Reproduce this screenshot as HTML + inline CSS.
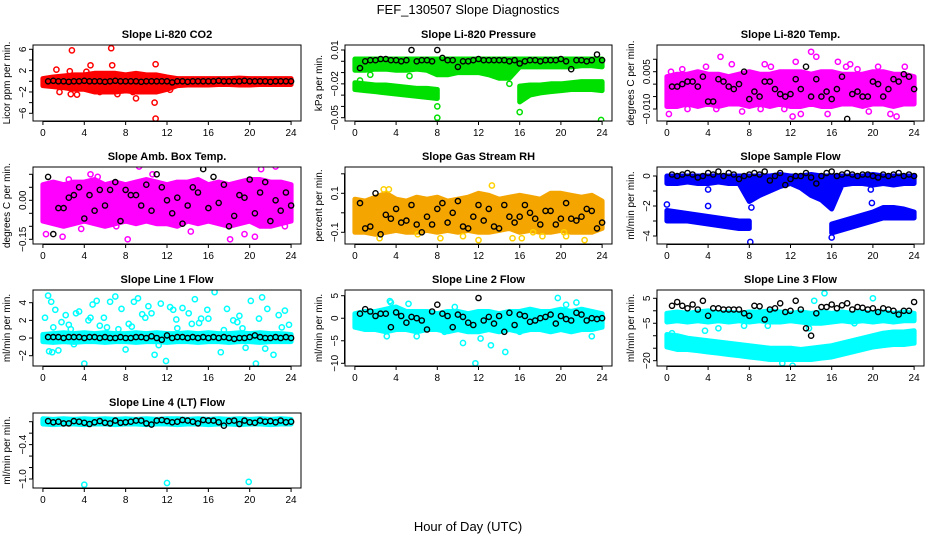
<!DOCTYPE html>
<html><head><meta charset="utf-8"><style>
html,body{margin:0;padding:0;background:#fff}
svg{display:block;font-family:"Liberation Sans",sans-serif}
</style></head><body>
<svg id="chart" width="936" height="540" viewBox="0 0 936 540" xmlns="http://www.w3.org/2000/svg">
<rect width="936" height="540" fill="#fff"/>
<text x="468" y="14" text-anchor="middle" font-size="13">FEF_130507  Slope Diagnostics</text>
<text x="468" y="531" text-anchor="middle" font-size="13">Hour of Day (UTC)</text>
</svg>
<script>
const bandHours = [0,1,2,3,4,5,6,7,8,9,10,11,12,13,14,15,16,17,18,19,20,21,22,23,24];
const blackHours = [0.5,1,1.5,2,2.5,3,3.5,4,4.5,5,5.5,6,6.5,7,7.5,8,8.5,9,9.5,10,10.5,11,11.5,12,12.5,13,13.5,14,14.5,15,15.5,16,16.5,17,17.5,18,18.5,19,19.5,20,20.5,21,21.5,22,22.5,23,23.5,24];
const xTicks = [0,4,8,12,16,20,24];

// Panel 1 CO2
const co2Lo = [-0.8,-1,-1.2,-1.5,-1.5,-2,-2,-2,-1.8,-2,-2,-2,-1.5,-0.8,-0.7,-0.7,-0.7,-0.6,-0.6,-0.7,-0.7,-0.6,-0.6,-0.6,-0.6];
const co2Hi = [0.5,0.8,1,1.2,1.2,1.5,1.5,1.5,1.2,1.5,1.2,1.2,0.8,0.5,0.5,0.5,0.5,0.5,0.5,0.6,0.5,0.5,0.5,0.5,0.5];
const co2ScatH = [2.8,6.6,4.6,6.7,10.9,1.3,2.6,3.3,2.7,7.2,9,10.8,10.9,12.3,1.6,8.7,4.2,5.5];
const co2ScatV = [5.8,6.2,3,3,3.2,2.2,1.9,-2.5,-2.4,-2.4,-3.2,-4,-7,-1.6,-2,-2,1.8,-2];
const co2Black = [0,0.1,0,0,-0.1,0,0,0.1,0,0,0,-0.1,0,0.1,0,0,0,0,-0.1,0,0,0,0,0,-0.2,0,0,-0.1,0,0,0,0,0,0.1,0,0,0,0,0.1,0,0,0,0,-0.1,0,0,0,0];
// Panel 2 pressure
const presLo = [-0.008,-0.008,-0.007,-0.007,-0.008,-0.008,-0.007,-0.008,-0.012,-0.012,-0.01,-0.01,-0.01,-0.012,-0.015,-0.015,-0.005,-0.005,-0.005,-0.005,-0.005,-0.005,-0.004,-0.004,-0.005];
const presHi = [0.002,0.002,0.002,0.002,0.002,0.002,0.002,0.002,0.002,0.002,0.002,0.002,0.002,0.002,0.002,0.002,0.002,0.002,0.002,0.002,0.002,0.002,0.002,0.002,0.002];
const presB2aH = [0,1,2,3,4,5,6,7,8];
const presB2aHi = [-0.019,-0.02,-0.021,-0.021,-0.022,-0.023,-0.024,-0.024,-0.025];
const presB2aLo = [-0.025,-0.026,-0.027,-0.028,-0.029,-0.03,-0.031,-0.032,-0.033];
const presB2bH = [16,17,18,19,20,21,22,23,24];
const presB2bHi = [-0.022,-0.021,-0.021,-0.02,-0.02,-0.019,-0.018,-0.018,-0.018];
const presB2bLo = [-0.036,-0.03,-0.028,-0.027,-0.026,-0.025,-0.025,-0.025,-0.026];
const presScatH = [8,8,16,23.9,7.7,15,5.3,14.5,0.5,1.5];
const presScatV = [-0.04,-0.05,-0.045,-0.052,-0.03,-0.02,-0.013,-0.01,-0.017,-0.012];
const presBlack = [-0.006,0,0.001,0.001,0.002,0.002,0.001,0.001,0,0.001,0.01,0,0.001,0.001,0,0.01,0.003,0.001,0.001,-0.005,0,0,0.001,0.002,0.001,0.001,0.001,0.001,0.001,0,0.001,-0.002,0,0.001,0.001,0,0.001,0.001,0.001,0.002,0,-0.007,0.001,0.001,0,0.001,0.006,0.001];
// Panel 3 temp
const tempLo = [-0.009,-0.009,-0.008,-0.009,-0.008,-0.009,-0.008,-0.008,-0.009,-0.008,-0.009,-0.008,-0.009,-0.009,-0.008,-0.009,-0.009,-0.008,-0.008,-0.009,-0.008,-0.008,-0.009,-0.008,-0.008];
const tempHi = [0.003,0.004,0.004,0.005,0.004,0.004,0.003,0.004,0.005,0.004,0.004,0.005,0.005,0.005,0.004,0.005,0.005,0.004,0.004,0.004,0.005,0.005,0.004,0.004,0.003];
const tempScatH = [0.2,0.4,2,3.8,4.8,5.2,6.3,7.3,9.1,10.1,11.4,12.5,13,14,14.5,15.6,16.6,17.4,18.5,19.6,20.5,21.7,22.3,23.1,1.5,9.5,12.2,17.8];
const tempScatV = [-0.012,0.005,-0.01,0.007,-0.01,0.011,0.008,-0.011,-0.01,0.007,-0.01,0.009,-0.012,0.013,0.011,-0.012,0.009,0.007,0.006,-0.011,0.007,-0.012,-0.013,0.007,0.006,0.008,-0.013,0.008];
const tempBlack = [-0.001,-0.001,0,0.001,0.001,-0.001,0.003,-0.007,-0.007,0.002,0.001,-0.001,-0.002,0,0.005,-0.006,-0.003,-0.005,0.001,0.001,-0.002,-0.004,-0.005,-0.004,0.002,-0.002,0.007,-0.005,0.002,-0.005,-0.003,-0.006,-0.002,0.003,-0.014,-0.004,-0.003,-0.005,-0.005,0.001,0,-0.005,-0.002,0.002,0.001,0.004,0.003,-0.002];
// Panel 4 amb box temp
const ambLo = [-0.08,-0.09,-0.1,-0.09,-0.08,-0.09,-0.1,-0.09,-0.08,-0.09,-0.08,-0.09,-0.09,-0.1,-0.08,-0.09,-0.08,-0.09,-0.1,-0.09,-0.08,-0.1,-0.1,-0.09,-0.08];
const ambHi = [0.06,0.07,0.06,0.07,0.07,0.08,0.06,0.07,0.06,0.07,0.08,0.07,0.06,0.07,0.07,0.08,0.06,0.07,0.06,0.07,0.08,0.08,0.07,0.07,0.06];
const ambScatH = [0.3,1.9,2.5,4.6,6.3,7.1,8.2,9.3,12.4,13.2,14.3,15.6,15.9,16.2,17.4,18.1,19.5,20.5,21.1,22.5,23.4,3.7,10.6,5.3];
const ambScatV = [-0.13,-0.14,0.08,0.1,0.14,-0.1,-0.15,0.13,0.15,-0.2,-0.12,-0.18,0.2,0.2,0.14,-0.15,-0.13,-0.14,0.12,0.13,-0.1,-0.11,0.1,0.09];
const ambBlack = [0.09,-0.13,-0.03,-0.03,0.01,0.02,0.05,-0.07,0.02,-0.04,0.04,-0.02,0.04,0.07,-0.08,0.04,0.02,0.02,-0.02,0.06,-0.04,0.1,0.05,0,-0.05,0.01,-0.09,-0.02,0.05,0.03,0.12,-0.03,0.09,-0.01,0.06,-0.1,-0.06,0.02,0.01,0.08,-0.05,0.03,0.07,-0.08,0,-0.04,0.03,-0.02];
// Panel 5 RH
const rhLo = [-0.1,-0.1,-0.11,-0.1,-0.09,-0.1,-0.1,-0.09,-0.1,-0.09,-0.1,-0.09,-0.1,-0.1,-0.09,-0.08,-0.1,-0.09,-0.1,-0.1,-0.09,-0.1,-0.1,-0.1,-0.08];
const rhHi = [0.07,0.06,0.08,0.1,0.07,0.06,0.08,0.07,0.08,0.06,0.07,0.08,0.1,0.09,0.07,0.08,0.09,0.08,0.07,0.1,0.1,0.09,0.08,0.09,0.06];
const rhScatH = [2.4,3.3,8.3,12,13.3,15.3,16.2,17.3,18.2,19.3,20.3,20.5,22.3,2.8,6.1,10.5];
const rhScatV = [-0.13,0.12,-0.13,-0.14,0.14,-0.13,-0.13,-0.1,-0.12,0.25,-0.1,-0.12,-0.14,0.12,-0.11,-0.12];
const rhBlack = [0.05,-0.08,-0.07,0.1,-0.11,-0.01,-0.03,0.02,-0.05,-0.04,0.04,-0.06,-0.1,-0.02,-0.06,0.02,0.05,-0.05,0,0.06,-0.07,-0.08,-0.02,0.04,-0.04,0.02,-0.07,-0.08,0.04,-0.02,-0.05,-0.02,0.04,0,-0.03,-0.06,0.01,0.01,-0.06,-0.03,0.05,-0.03,-0.04,-0.02,0.02,0.01,-0.08,-0.05];
// Panel 6 sample flow
const sfLo = [-0.5,-0.5,-0.4,-0.5,-0.5,-0.4,-0.5,-0.5,-1.7,-1.3,-1,-0.7,-0.5,-0.8,-1.3,-1.6,-2.2,-0.6,-0.5,-0.5,-0.6,-0.5,-0.6,-0.5,-0.5];
const sfHi = [0,0,0,0,0,0,0,0,0,0,0,0.1,0,0,0.1,0,0,0,0,0,0.1,0,0,0,0];
const sfB2aH = [0,1,2,3,4,5,6,7,8];
const sfB2aHi = [-2.3,-2.4,-2.5,-2.6,-2.7,-2.8,-2.9,-3,-3];
const sfB2aLo = [-3,-3,-3,-3.1,-3.2,-3.3,-3.4,-3.5,-3.5];
const sfB2bH = [16,17,18,19,20,21,22,23,24];
const sfB2bHi = [-3.2,-3,-2.8,-2.6,-2.4,-2.1,-2.1,-2.2,-2.4];
const sfB2bLo = [-3.8,-3.6,-3.4,-3.2,-3,-2.8,-2.8,-2.8,-2.8];
const sfScatH = [0,8.1,16,4,19.9,19.8,8.2,4];
const sfScatV = [-1.9,-4.4,-4.1,-2,-1.8,-0.9,-2.1,-0.9];
const sfBlack = [0.1,0,0.1,0.2,0.1,-0.1,0,0.2,0.1,0.3,0,0.2,0.1,-0.2,0,0.1,0.2,0.1,0.3,-0.3,0,0.2,-0.6,-0.2,0,0,0.2,-0.1,-0.5,0,0.2,0.3,0,0.1,0.2,0.1,0,0.1,0.1,0,-0.1,0.1,0,0.1,0.2,0,0.1,0];
// Panel 7 line 1
const l1Lo = [-0.4,-0.5,-0.4,-0.5,-0.4,-0.4,-0.5,-0.4,-0.4,-0.5,-0.4,-0.4,-0.5,-0.4,-0.4,-0.5,-0.4,-0.4,-0.5,-0.4,-0.4,-0.5,-0.4,-0.4,-0.4];
const l1Hi = [0.4,0.5,0.6,0.5,0.6,0.5,0.6,0.5,0.5,0.6,0.5,0.6,0.5,0.5,0.6,0.5,0.6,0.5,0.5,0.6,0.5,0.6,0.5,0.5,0.4];
const l1ScatH = [0.2,0.5,0.6,0.8,1.2,1.5,1.8,2.2,2.7,3.2,3.5,4,4.4,4.8,5.2,5.9,6.5,7,7.6,8,8.3,8.8,9.2,9.6,10.2,10.8,11.4,11.9,12.3,12.9,13.5,14.1,14.7,15.3,15.9,16.6,17.2,17.8,18.4,19,19.6,20.1,20.6,21.2,21.7,22.3,22.8,23.4,23.8,1,3,5.5,7.3,9.9,13,16,18.8,21.5,0.9,11.2,2.5,6.2,10.5,14.4,17.5,20.9,23.1,4.6,8.6,12.6,15.1,19.3];
const l1ScatV = [2.3,4.8,-1.5,4.1,3.2,-1.4,1.8,2.6,1,2.8,3,-2.9,2,3.8,4.2,2.3,4.1,4.7,3.3,-1.3,1.6,4.1,4.5,2.7,3.6,-1.9,3.9,-2.6,3.5,2.1,3.4,2.8,4.4,2.2,3.2,5.2,-1.6,3.3,2,2.5,-1.1,4.2,-2.9,4.6,3.3,-1.9,2.6,3.1,1.5,1.2,-0.7,1.4,1,2.3,1.1,2.2,1.8,-1.2,-1.6,-0.8,1.5,1.2,2.8,1.6,0.9,2.2,1.2,2.3,1.3,3.2,1.7,1.1];
const l1Black = [0.1,0.1,0.1,0,0.1,0.1,0.1,0,0.1,0.1,0,0.1,0,0,0.1,0,0,0.1,0.1,0,0.2,0,-0.2,0.3,0,0.1,0.1,0,0.1,0,0.1,0,0.1,0,0.1,0,-0.1,0,0,0.1,0.3,0.1,0,0,0.1,0,0.1,0];
// Panel 8 line 2
const l2Lo = [-2,-2.5,-2.5,-3,-2.5,-2.5,-3,-2.5,-2.5,-3,-2.5,-3,-3,-2.5,-3,-2.5,-3,-2.5,-2.5,-3,-2.5,-3,-2.5,-2.5,-2];
const l2Hi = [1,1.5,1.5,2,2.5,1.5,1.5,1.5,1,1.5,1.5,1,1.5,1.5,1,1.5,1.5,2,1.5,1.5,2,1.5,2,1.5,1];
const l2ScatH = [3.4,3.5,5.2,6,3.1,9.7,11.7,12.2,13.2,14.6,16,19.7,20.5,21.5,23,10.5,8.7];
const l2ScatV = [3.8,3.5,3.2,-4,-4,2.5,-10,-4.5,-6,-7.5,-3,4.5,3,3.5,-4,-5.5,-3];
const l2Black = [1,2,1.5,0.5,1,1,-2,1.3,0.5,-1,0.3,0,-0.5,-2.5,1.5,3,1,0.5,-2,0.8,0.3,-1,-1.5,4.5,-0.5,0.3,-1.2,0.5,-3,1.2,-1.5,0.8,0.5,-0.8,-0.5,0,0.3,0.8,-1.2,0.5,-0.2,-0.5,1.2,0.8,-0.5,0,-0.2,0];
// Panel 9 line 3
const l3Lo = [-4.5,-4,-4.5,-4,-4.5,-4,-4.5,-4,-4.5,-4,-4.5,-4.5,-4,-4.5,-5,-5,-4.5,-4,-4.5,-4,-4.5,-4,-4.5,-4,-4];
const l3Hi = [-1,-0.5,-1,-0.5,0,-1,-0.5,-1,-0.5,-0.5,0,-0.5,-1,-0.5,-1,-0.5,-1,-0.5,-1,-0.5,-1,-0.5,-1,-0.5,-1];
const l3B2Hi = [-9.5,-10,-11,-11.5,-12,-12.5,-13,-13.5,-14,-14.5,-15,-15,-15,-15.5,-15,-14.5,-14,-13,-12,-11,-10,-9,-8.5,-8.5,-8];
const l3B2Lo = [-14.5,-15.5,-15.5,-16,-16.5,-17,-17.5,-18,-18.5,-19,-19.5,-19.5,-19.5,-19.5,-19.5,-19,-18.5,-17.5,-16.5,-15.5,-14.5,-14,-13.5,-13.5,-13];
const l3ScatH = [0.5,3.7,9.8,12.2,14.3,15.3,18.2,20,11.2,7.5,5,13.8];
const l3ScatV = [-9,-8,-6,-22,4,7,-5,5,-21,-6,-7,-7];
const l3Black = [2,3.5,2,1,2.5,0.5,4,-2,1,1,0.5,0.5,0.5,0.5,-1,-2,2,1.8,-3.5,0.5,1,3,-0.5,0,4,0.5,-7,-10,-1,1.5,1.5,2.5,1,2.2,3,0.5,1.5,1.2,0.5,1,-0.5,1,0.5,0,-1.5,0,0,3.5];
// Panel 10 line 4
const l4Lo = [-0.04,-0.05,-0.04,-0.04,-0.05,-0.04,-0.04,-0.05,-0.04,-0.04,-0.05,-0.04,-0.04,-0.05,-0.04,-0.04,-0.05,-0.04,-0.04,-0.05,-0.04,-0.04,-0.05,-0.04,-0.04];
const l4Hi = [0.05,0.04,0.05,0.04,0.05,0.04,0.05,0.04,0.05,0.04,0.05,0.04,0.05,0.05,0.04,0.05,0.04,0.05,0.04,0.05,0.04,0.05,0.04,0.05,0.04];
const l4ScatH = [4,12,19.9];
const l4ScatV = [-1.1,-1.07,-1.05];
const l4Black = [0.01,-0.01,0,-0.03,-0.03,0.01,0,-0.02,-0.04,-0.01,0.01,-0.02,-0.03,0.02,-0.02,-0.01,0,0.02,0.02,-0.03,-0.05,0.02,0.03,0.01,-0.01,0,0.03,0.02,0,-0.03,0.03,0.02,0.02,-0.01,-0.07,0.01,0.02,-0.04,0.02,-0.01,-0.02,0.02,0,0.01,-0.01,0.02,-0.01,0];

const NS = "http://www.w3.org/2000/svg";
const svg = document.getElementById('chart');
function mk(tag, attrs, parent) {
  const e = document.createElementNS(NS, tag);
  for (const k in attrs) e.setAttribute(k, attrs[k]);
  (parent || svg).appendChild(e);
  return e;
}
const cols = [[33,301],[345,612],[657,924]];
const rows = [[45,121],[167,244],[290,366],[413,488]];

const panels = [
 {name:'co2',title:'Slope Li-820 CO2',ylab:'Licor ppm per min.',c:0,r:0,color:'#ff0000',map:[6,49.3,-6,113.3],ticks:[-6,-4,-2,0,2,4,6],labels:[-6,-2,2,6],fmt:v=>String(v),
  bands:[[bandHours,co2Lo,co2Hi]],sh:co2ScatH,sv:co2ScatV,black:co2Black},
 {name:'pressure',title:'Slope Li-820 Pressure',ylab:'kPa per min.',c:1,r:0,color:'#00e000',map:[0.01,50,-0.05,117.7],ticks:[0.01,0,-0.01,-0.02,-0.03,-0.04,-0.05],labels:[0.01,-0.02,-0.05],fmt:v=>v.toFixed(2),
  bands:[[bandHours,presLo,presHi],[presB2aH,presB2aLo,presB2aHi],[presB2bH,presB2bLo,presB2bHi]],sh:presScatH,sv:presScatV,black:presBlack},
 {name:'temp',title:'Slope Li-820 Temp.',ylab:'degrees C per min.',c:2,r:0,color:'#ff00ff',map:[0.005,71.7,-0.01,109],ticks:[0.01,0.005,0,-0.005,-0.01],labels:[0.005,-0.01],fmt:v=>v.toFixed(3),
  bands:[[bandHours,tempLo,tempHi]],sh:tempScatH,sv:tempScatV,black:tempBlack},
 {name:'amb-temp',title:'Slope Amb. Box Temp.',ylab:'degrees C per min.',c:0,r:1,color:'#ff00ff',map:[0,200.3,-0.15,239.3],ticks:[0.1,0.05,0,-0.05,-0.1,-0.15],labels:[0,-0.15],fmt:v=>v.toFixed(2),
  bands:[[bandHours,ambLo,ambHi]],sh:ambScatH,sv:ambScatV,black:ambBlack},
 {name:'rh',title:'Slope Gas Stream RH',ylab:'percent per min.',c:1,r:1,color:'#f5a500',pt:'#ffd000',map:[0.1,193.3,-0.1,232.3],ticks:[0.2,0.1,0,-0.1],labels:[0.1,-0.1],fmt:v=>String(v),
  bands:[[bandHours,rhLo,rhHi]],sh:rhScatH,sv:rhScatV,black:rhBlack},
 {name:'sample-flow',title:'Slope Sample Flow',ylab:'ml/min per min.',c:2,r:1,color:'#0000ff',map:[0,176,-4,236],ticks:[0,-1,-2,-3,-4],labels:[0,-2,-4],fmt:v=>String(v),
  bands:[[bandHours,sfLo,sfHi],[sfB2aH,sfB2aLo,sfB2aHi],[sfB2bH,sfB2bLo,sfB2bHi]],sh:sfScatH,sv:sfScatV,black:sfBlack},
 {name:'line1',title:'Slope Line 1 Flow',ylab:'ml/min per min.',c:0,r:2,color:'#00ffff',map:[4,302.7,-2,355.7],ticks:[4,2,0,-2],labels:[4,2,0,-2],fmt:v=>String(v),
  bands:[[bandHours,l1Lo,l1Hi]],sh:l1ScatH,sv:l1ScatV,black:l1Black},
 {name:'line2',title:'Slope Line 2 Flow',ylab:'ml/min per min.',c:1,r:2,color:'#00ffff',map:[5,295.7,-10,363.3],ticks:[5,0,-5,-10],labels:[5,0,-5,-10],fmt:v=>String(v),
  bands:[[bandHours,l2Lo,l2Hi]],sh:l2ScatH,sv:l2ScatV,black:l2Black},
 {name:'line3',title:'Slope Line 3 Flow',ylab:'ml/min per min.',c:2,r:2,color:'#00ffff',map:[5,298.3,-20,360.7],ticks:[5,0,-5,-10,-15,-20],labels:[5,-5,-20],fmt:v=>String(v),
  bands:[[bandHours,l3Lo,l3Hi],[bandHours,l3B2Lo,l3B2Hi]],sh:l3ScatH,sv:l3ScatV,black:l3Black},
 {name:'line4',title:'Slope Line 4 (LT) Flow',ylab:'ml/min per min.',c:0,r:3,color:'#00ffff',map:[0,421.7,-1,479],ticks:[0,-0.2,-0.4,-0.6,-0.8,-1],labels:[-0.4,-1],fmt:v=>v.toFixed(1),
  bands:[[bandHours,l4Lo,l4Hi]],sh:l4ScatH,sv:l4ScatV,black:l4Black}
];

panels.forEach(p => {
  const L = cols[p.c][0], R = cols[p.c][1], T = rows[p.r][0], B = rows[p.r][1];
  const xs = h => L + (h + 0.96) / 25.92 * (R - L);
  const ys = v => p.map[1] + (v - p.map[0]) * (p.map[3] - p.map[1]) / (p.map[2] - p.map[0]);
  const g = mk('g', {});
  
  
  const clipId = 'clip-' + p.name;
  const cp = mk('clipPath', {id: clipId}, g);
  mk('rect', {x: L, y: T, width: R - L, height: B - T}, cp);
  const marks = mk('g', {'clip-path': 'url(#' + clipId + ')'}, g);
  p.bands.forEach((b, bi) => {
    const [hs, lo, hi] = b;
    let pts = [];
    hs.forEach((h, i) => pts.push(xs(h).toFixed(1) + ',' + ys(hi[i]).toFixed(1)));
    for (let i = hs.length - 1; i >= 0; i--) pts.push(xs(hs[i]).toFixed(1) + ',' + ys(lo[i]).toFixed(1));
    const poly = mk('polygon', {points: pts.join(' '), fill: p.color, stroke: p.color, 'stroke-width': 5, 'stroke-linejoin': 'round'}, marks);
    
    
  });
  p.sh.forEach((h, i) => {
    const c = mk('circle', {cx: xs(h).toFixed(1), cy: ys(p.sv[i]).toFixed(1), r: 2.6, fill: 'none', stroke: p.pt || p.color, 'stroke-width': 1.5}, marks);
    
    
  });
  blackHours.forEach((h, i) => {
    const c = mk('circle', {cx: xs(h).toFixed(1), cy: ys(p.black[i]).toFixed(1), r: 2.6, fill: 'none', stroke: '#000', 'stroke-width': 1.4}, marks);
    
    
  });
  const box = mk('rect', {x: L, y: T, width: R - L, height: B - T, fill: 'none', stroke: '#000', 'stroke-width': 1}, g);
  
  
  const t = mk('text', {x: (L + R) / 2, y: T - 7, 'text-anchor': 'middle', 'font-size': 11, 'font-weight': 'bold'}, g);
  t.textContent = p.title;
  
  
  const yl = mk('text', {x: 0, y: 0, 'text-anchor': 'middle', 'font-size': 10, transform: 'translate(' + (L - 23) + ',' + ((T + B) / 2) + ') rotate(-90)'}, g);
  yl.textContent = p.ylab;
  
  
  mk('line', {x1: xs(0), x2: xs(24), y1: B + 0.5, y2: B + 0.5, stroke: '#000'}, g);
  xTicks.forEach(h => {
    mk('line', {x1: xs(h), x2: xs(h), y1: B, y2: B + 4, stroke: '#000'}, g);
    const tl = mk('text', {x: xs(h), y: B + 15, 'text-anchor': 'middle', 'font-size': 10}, g);
    tl.textContent = h;
    
    
  });
  mk('line', {x1: L - 0.5, x2: L - 0.5, y1: ys(p.ticks[0]), y2: ys(p.ticks[p.ticks.length - 1]), stroke: '#000'}, g);
  p.ticks.forEach(v => mk('line', {x1: L - 4, x2: L, y1: ys(v), y2: ys(v), stroke: '#000'}, g));
  p.labels.forEach(v => {
    const s = p.fmt(v).replace('-', '\u2212');
    const tl = mk('text', {x: 0, y: 0, 'text-anchor': 'middle', 'font-size': 10, transform: 'translate(' + (L - 7) + ',' + ys(v).toFixed(1) + ') rotate(-90)'}, g);
    tl.textContent = s;
    
    
  });
});
</script>
</body></html>
